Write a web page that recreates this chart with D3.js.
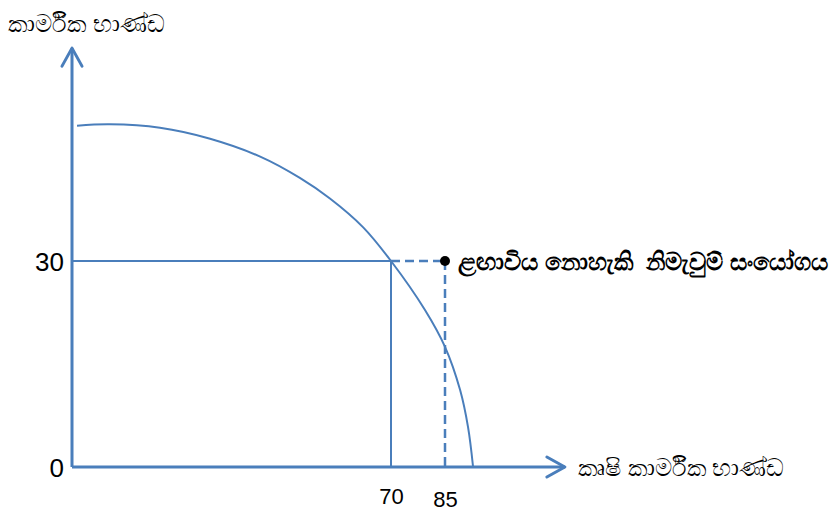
<!DOCTYPE html>
<html>
<head>
<meta charset="utf-8">
<script src="https://cdn.jsdelivr.net/npm/d3@7"></script>
<style>
  html, body { margin: 0; padding: 0; background: #ffffff; }
  svg { display: block; }
  text { font-family: "Liberation Sans", "Noto Sans", sans-serif; }
</style>
</head>
<body>
<svg id="chart" width="835" height="513"></svg>
<script>
// ---- data ----
const yAxisTitle = "කාර්මික භාණ්ඩ";
const xAxisTitle = "කෘෂි කාර්මික භාණ්ඩ";
const pointLabel = "ළඟාවිය නොහැකි  නිමැවුම් සංයෝගය";
const xTickValues = [0, 70, 85];
const xTickLabels = ["70", "85"];
const yTickValues = [0, 30];
const yTickLabels = ["0", "30"];
// production possibility frontier (agricultural, industrial)
const ppfX = [1.1, 8.3, 19.3, 30.3, 41.3, 50.0, 56.6, 63.9, 70, 79.4, 85, 89.2, 91.4, 92.8];
const ppfY = [49.7, 49.9, 49.4, 47.8, 45.2, 42.1, 39.1, 34.9, 30, 22.9, 17.5, 11.2, 5.8, 0];
const attainable = { x: 70, y: 30 };
const unattainable = { x: 85, y: 30 };
const xAxisMax = 118.3;
const yAxisMax = 61;

// ---- drawing ----
const svg = d3.select("#chart");
const blue = "#4a7ebb";

const x = d3.scaleLinear().domain(xTickValues).range([72, 391, 445]);
const y = d3.scaleLinear().domain(yTickValues).range([467, 261]);

// guide lines for attainable point
svg.append("line")
  .attr("x1", x(0)).attr("x2", x(attainable.x))
  .attr("y1", y(attainable.y)).attr("y2", y(attainable.y))
  .attr("stroke", blue).attr("stroke-width", 2);
svg.append("line")
  .attr("x1", x(attainable.x)).attr("x2", x(attainable.x))
  .attr("y1", y(attainable.y)).attr("y2", y(0))
  .attr("stroke", blue).attr("stroke-width", 2);

// dashed lines for unattainable point
svg.append("line")
  .attr("x1", x(attainable.x)).attr("x2", x(unattainable.x))
  .attr("y1", y(unattainable.y)).attr("y2", y(unattainable.y))
  .attr("stroke", blue).attr("stroke-width", 2.5).attr("stroke-dasharray", "9,5");
svg.append("line")
  .attr("x1", x(unattainable.x)).attr("x2", x(unattainable.x))
  .attr("y1", y(unattainable.y)).attr("y2", y(0))
  .attr("stroke", blue).attr("stroke-width", 2.5).attr("stroke-dasharray", "9,5");

// PPF curve
const line = d3.line()
  .x(d => x(d[0])).y(d => y(d[1]))
  .curve(d3.curveCatmullRom.alpha(0.5));
svg.append("path")
  .datum(d3.zip(ppfX, ppfY))
  .attr("d", line)
  .attr("fill", "none").attr("stroke", blue).attr("stroke-width", 2);

// axes with open arrowheads
function arrowAxis(x1, y1, x2, y2, dir) {
  svg.append("line").attr("x1", x1).attr("y1", y1).attr("x2", x2).attr("y2", y2)
    .attr("stroke", blue).attr("stroke-width", 3);
  let pts;
  if (dir === "up") pts = [[x2 - 10, y2 + 18], [x2, y2], [x2 + 10, y2 + 18]];
  else pts = [[x2 - 18, y2 - 10], [x2, y2], [x2 - 18, y2 + 10]];
  svg.append("path").attr("d", d3.line()(pts))
    .attr("fill", "none").attr("stroke", blue).attr("stroke-width", 3)
    .attr("stroke-linecap", "round").attr("stroke-linejoin", "round");
}
arrowAxis(x(0), y(0), x(0), y(yAxisMax), "up");
arrowAxis(x(0), y(0), x(xAxisMax), y(0), "right");

// y tick labels
const yAxis = d3.axisLeft(y).tickValues(yTickValues).tickSize(0).tickPadding(8)
  .tickFormat((d, i) => yTickLabels[i]);
const gy = svg.append("g").attr("transform", `translate(${x(0)},0)`).call(yAxis);
gy.select(".domain").remove();
gy.selectAll("text").attr("font-family", "Liberation Sans, sans-serif")
  .attr("font-size", 26).attr("fill", "#000").attr("dy", "0.38em");

// x tick labels
const xAxis = d3.axisBottom(x).tickValues([70, 85]).tickSize(0).tickPadding(22)
  .tickFormat((d, i) => xTickLabels[i]);
const gx = svg.append("g").attr("transform", `translate(0,${y(0)})`).call(xAxis);
gx.select(".domain").remove();
gx.selectAll("text").attr("font-family", "Liberation Sans, sans-serif")
  .attr("font-size", 22).attr("fill", "#000")
  .attr("dy", (d, i) => i === 0 ? "0.68em" : "0.8em");

// unattainable point
svg.append("circle").attr("cx", x(unattainable.x)).attr("cy", y(unattainable.y))
  .attr("r", 5).attr("fill", "#000");

// texts
svg.append("text").attr("x", 8).attr("y", 32).attr("font-size", 24).attr("fill", "#000")
  .text(yAxisTitle);
svg.append("text").attr("x", x(xAxisMax) + 13).attr("y", y(0) + 9).attr("font-size", 24).attr("fill", "#000")
  .text(xAxisTitle);
svg.append("text").attr("x", x(unattainable.x) + 13).attr("y", y(unattainable.y) + 9)
  .attr("font-size", 24).attr("font-weight", "bold").attr("fill", "#000")
  .attr("xml:space", "preserve").style("white-space", "pre")
  .text(pointLabel);
</script>
</body>
</html>
